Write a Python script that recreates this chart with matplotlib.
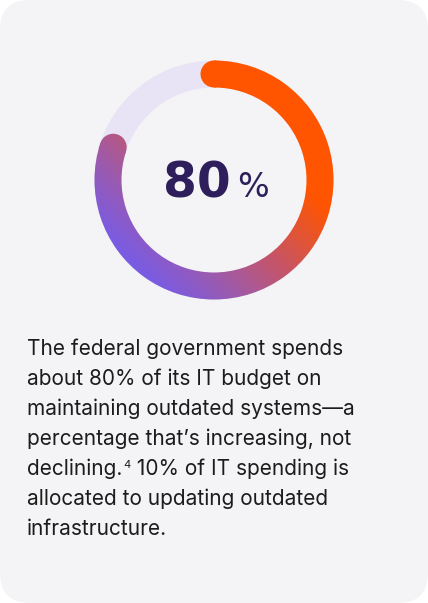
import numpy as np
import matplotlib
matplotlib.use("Agg")
import matplotlib.pyplot as plt
from matplotlib.patches import Wedge, Circle, FancyBboxPatch
from matplotlib.colors import LinearSegmentedColormap

# ---- data ----
share_values = [80, 20]          # % of IT budget: maintaining outdated systems, rest
center_label = ["80", "%"]
body_lines = [
    "The federal government spends",
    "about 80% of its IT budget on",
    "maintaining outdated systems\u2014a",
    "percentage that\u2019s increasing, not",
    "declining.",
    "allocated to updating outdated",
    "infrastructure.",
]
footnote_mark = "4"
line5_rest = " 10% of IT spending is"

W, H = 428, 603
fig = plt.figure(figsize=(W / 100, H / 100), dpi=100)
fig.patch.set_facecolor("white")
ax = fig.add_axes([0, 0, 1, 1])
ax.set_xlim(0, W)
ax.set_ylim(0, H)
ax.set_aspect("equal")
ax.axis("off")

# card
card = FancyBboxPatch((0, 0), W, H, boxstyle="round,pad=0,rounding_size=30",
                      fc="#f4f4f6", ec="none", zorder=0)
ax.add_patch(card)

# ring
cx, cy = 214, H - 180
r_mid, ring_w = 106, 27
r_out = r_mid + ring_w / 2

track = Wedge((cx, cy), r_out, 0, 360, width=ring_w, fc="#e8e4f6", ec="none", zorder=1)
ax.add_patch(track)

span = 360 * share_values[0] / sum(share_values)
theta_start = 90
theta_end = 90 - span

# gradient image
cmap = LinearSegmentedColormap.from_list(
    "g", [(0.0, "#ff5500"), (0.39, "#ca5460"), (0.69, "#a25aa4"),
          (0.82, "#905ac0"), (1.0, "#7a5ce2")])
ext = [cx - r_out - 20, cx + r_out + 20, cy - r_out - 20, cy + r_out + 20]
xs = np.linspace(ext[0], ext[1], 300)
ys = np.linspace(ext[3], ext[2], 300)
X, Y = np.meshgrid(xs, ys)
p = ((X - cx) * (-1) + (Y - cy) * (-1)) / np.sqrt(2)
t = np.clip((p + 60) / 175, 0, 1)

arc = Wedge((cx, cy), r_out, theta_end, theta_start, width=ring_w, fc="none", ec="none")
ax.add_patch(arc)
caps = []
for th in (theta_start, theta_end):
    c = Circle((cx + r_mid * np.cos(np.radians(th)), cy + r_mid * np.sin(np.radians(th))),
               ring_w / 2, fc="none", ec="none")
    ax.add_patch(c)
    caps.append(c)
for clip in [arc] + caps:
    im = ax.imshow(t, extent=ext, cmap=cmap, vmin=0, vmax=1, origin="upper",
                   interpolation="bilinear", zorder=2)
    im.set_clip_path(clip)
ax.set_xlim(0, W)
ax.set_ylim(0, H)

# center label
ax.text(197, H - 197, center_label[0], fontsize=35, fontweight="bold",
        family="DejaVu Sans", color="#2e1f5c", ha="center", va="baseline", zorder=3)
ax.text(253, H - 197, center_label[1], fontsize=24, family="DejaVu Sans",
        color="#2e1f5c", ha="center", va="baseline", zorder=3)

# body text
fs = 15.0
x0 = 27
base0 = 355
lh = 30
txt_kw = dict(fontsize=fs, family=["Inter", "DejaVu Sans"], color="#1c1c1c",
              ha="left", va="baseline", zorder=3)
fig.canvas.draw()
renderer = fig.canvas.get_renderer()
for i, line in enumerate(body_lines):
    yb = H - (base0 + i * lh)
    t1 = ax.text(x0, yb, line, **txt_kw)
    if i == 4:
        bb = t1.get_window_extent(renderer)
        xe = bb.x1
        t2 = ax.text(xe + 1, yb + 7, footnote_mark, fontsize=8,
                     family=["Inter", "DejaVu Sans"], color="#1c1c1c",
                     ha="left", va="baseline", zorder=3)
        bb2 = t2.get_window_extent(renderer)
        ax.text(bb2.x1, yb, line5_rest, **txt_kw)

fig.savefig("out.png", dpi=100, facecolor="white")
